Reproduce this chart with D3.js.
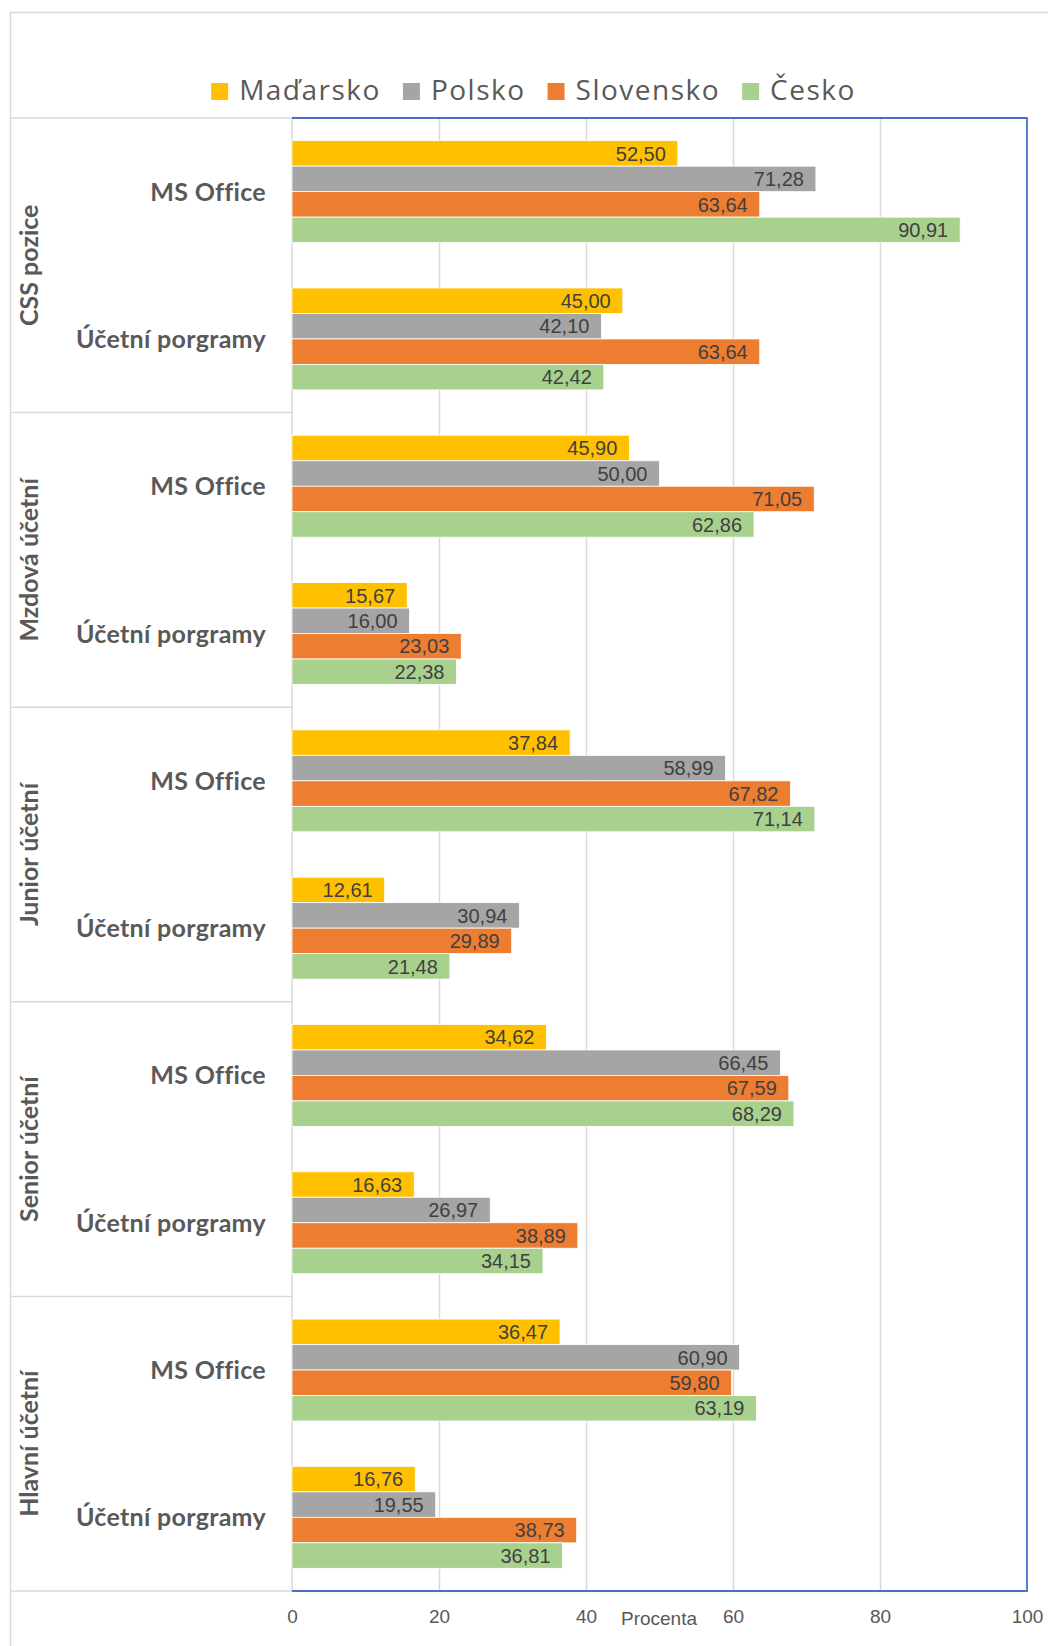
<!DOCTYPE html>
<html>
<head>
<meta charset="utf-8">
<script src="https://cdn.jsdelivr.net/npm/d3@7"></script>
<style>
  body { margin: 0; background: #fff; }
  svg { display: block; }
</style>
</head>
<body>
<div id="chart"></div>
<script>
// data (top to bottom)
const groups = ['CSS pozice', 'Mzdová účetní', 'Junior účetní', 'Senior účetní', 'Hlavní účetní']
const skills = ['MS Office', 'Účetní porgramy']
const seriesNames = ['Maďarsko', 'Polsko', 'Slovensko', 'Česko']
const seriesColors = ['#FFC000', '#A5A5A5', '#ED7D31', '#A9D18E']

// one value per group x skill, in the order above
const madarsko  = [52.50, 45.00, 45.90, 15.67, 37.84, 12.61, 34.62, 16.63, 36.47, 16.76]
const polsko    = [71.28, 42.10, 50.00, 16.00, 58.99, 30.94, 66.45, 26.97, 60.90, 19.55]
const slovensko = [63.64, 63.64, 71.05, 23.03, 67.82, 29.89, 67.59, 38.89, 59.80, 38.73]
const cesko     = [90.91, 42.42, 62.86, 22.38, 71.14, 21.48, 68.29, 34.15, 63.19, 36.81]

const xTicks = [0, 20, 40, 60, 80, 100]
const xTitle = 'Procenta'

const W = 1048, H = 1646
const plot = { left: 292, right: 1027, top: 118, bottom: 1591 }

const svg = d3.select('#chart').append('svg')
  .attr('width', W)
  .attr('height', H)

const allValues = [madarsko, polsko, slovensko, cesko]

const x = d3.scaleLinear().domain([0, 100]).range([plot.left, plot.right])
const yGroup = d3.scaleBand().domain(groups).range([plot.top, plot.bottom])
const ySkill = d3.scaleBand().domain(skills).range([0, yGroup.bandwidth()])
const ySeries = d3.scaleBand().domain(seriesNames).range([0, ySkill.bandwidth()])
  .paddingInner(0).paddingOuter(0.89)

// outer chart frame (left + top)
svg.append('line')
  .attr('x1', 10.5).attr('y1', 12.5).attr('x2', 10.5).attr('y2', H)
  .attr('stroke', '#d9d9d9').attr('stroke-width', 1.5)
svg.append('line')
  .attr('x1', 10).attr('y1', 12.5).attr('x2', W).attr('y2', 12.5)
  .attr('stroke', '#d9d9d9').attr('stroke-width', 1.5)

// gridlines
const grid = svg.append('g')
  .attr('transform', `translate(0, ${plot.top})`)
  .call(d3.axisBottom(x).tickValues(xTicks.slice(1, -1)).tickSize(plot.bottom - plot.top).tickFormat(''))
grid.select('.domain').remove()
grid.selectAll('.tick line').attr('stroke', '#d9d9d9').attr('stroke-width', 1.5)

// category axis separators
const seps = groups.map(g => yGroup(g)).concat([plot.bottom])
svg.selectAll('.sep').data(seps).enter().append('line')
  .attr('class', 'sep')
  .attr('x1', 10).attr('x2', plot.left)
  .attr('y1', d => d).attr('y2', d => d)
  .attr('stroke', '#d9d9d9').attr('stroke-width', 1.5)
svg.append('line')
  .attr('x1', plot.left).attr('x2', plot.left)
  .attr('y1', plot.top).attr('y2', plot.bottom)
  .attr('stroke', '#d9d9d9').attr('stroke-width', 1.5)

// bars
const rows = []
groups.forEach((g, gi) => {
  skills.forEach((s, si) => {
    const idx = gi * skills.length + si
    seriesNames.forEach((name, ki) => {
      rows.push({ group: g, skill: s, series: name, color: seriesColors[ki], value: allValues[ki][idx] })
    })
  })
})

const barY = d => yGroup(d.group) + ySkill(d.skill) + ySeries(d.series)

svg.append('g').selectAll('rect').data(rows).enter().append('rect')
  .attr('x', x(0))
  .attr('y', barY)
  .attr('width', d => x(d.value) - x(0))
  .attr('height', ySeries.bandwidth())
  .attr('fill', d => d.color)
  .attr('stroke', '#ffffff')
  .attr('stroke-width', 0.8)

svg.append('g').selectAll('text').data(rows).enter().append('text')
  .attr('x', d => x(d.value) - 12)
  .attr('y', d => barY(d) + ySeries.bandwidth() / 2)
  .attr('dy', '0.36em')
  .attr('text-anchor', 'end')
  .attr('fill', '#404040')
  .style('font-family', '"Liberation Sans Narrow", "Liberation Sans", sans-serif')
  .style('font-size', '20px')
  .text(d => d.value.toFixed(2).replace('.', ','))

// plot border (blue) top, right, bottom
svg.append('path')
  .attr('d', `M${plot.left},${plot.top}H${plot.right}V${plot.bottom}H${plot.left}`)
  .attr('fill', 'none')
  .attr('stroke', '#4472C4')
  .attr('stroke-width', 1.8)

// skill labels
groups.forEach(g => {
  svg.append('g').selectAll('text').data(skills).enter().append('text')
    .attr('x', 266)
    .attr('y', s => yGroup(g) + ySkill(s) + ySkill.bandwidth() / 2)
    .attr('dy', '0.36em')
    .attr('text-anchor', 'end')
    .attr('fill', '#595959')
    .style('font-family', 'Lato, sans-serif')
    .style('font-weight', 'bold')
    .style('font-size', '25px')
    .style('letter-spacing', '0.3px')
    .text(s => s)
})

// group labels (rotated)
svg.append('g').selectAll('text').data(groups).enter().append('text')
  .attr('transform', g => `translate(29, ${yGroup(g) + yGroup.bandwidth() / 2}) rotate(-90)`)
  .attr('dy', '0.36em')
  .attr('text-anchor', 'middle')
  .attr('fill', '#595959')
  .style('font-family', 'Lato, sans-serif')
  .style('font-weight', 'bold')
  .style('font-size', '25px')
  .text(g => g)

// x axis labels
const xAxis = svg.append('g')
  .attr('transform', `translate(0, ${plot.bottom})`)
  .call(d3.axisBottom(x).tickValues(xTicks).tickSize(0).tickPadding(19).tickFormat(d3.format('d')))
xAxis.select('.domain').remove()
xAxis.selectAll('text')
  .attr('fill', '#595959')
  .style('font-family', '"Liberation Sans Narrow", "Liberation Sans", sans-serif')
  .style('font-size', '19px')

svg.append('text')
  .attr('x', 659)
  .attr('y', 1625)
  .attr('text-anchor', 'middle')
  .attr('fill', '#595959')
  .style('font-family', '"Liberation Sans", sans-serif')
  .style('font-size', '19px')
  .text(xTitle)

// legend
const legend = svg.append('g')
const items = legend.selectAll('g').data(seriesNames).enter().append('g')
items.append('rect')
  .attr('width', 17).attr('height', 17)
  .attr('y', 83)
  .attr('fill', (d, i) => seriesColors[i])
items.append('text')
  .attr('x', 28)
  .attr('y', 100)
  .attr('fill', '#595959')
  .style('font-family', '"Open Sans", sans-serif')
  .style('font-size', '28px')
  .style('letter-spacing', '1.5px')
  .text(d => d)
let cursor = 0
const offsets = []
items.each(function () {
  const tw = this.querySelector('text').getComputedTextLength()
  offsets.push(cursor)
  cursor += 28 + tw + 22
})
const totalW = cursor - 22
const startX = 533.5 - totalW / 2
items.attr('transform', (d, i) => `translate(${startX + offsets[i]}, 0)`)
</script>
</body>
</html>
